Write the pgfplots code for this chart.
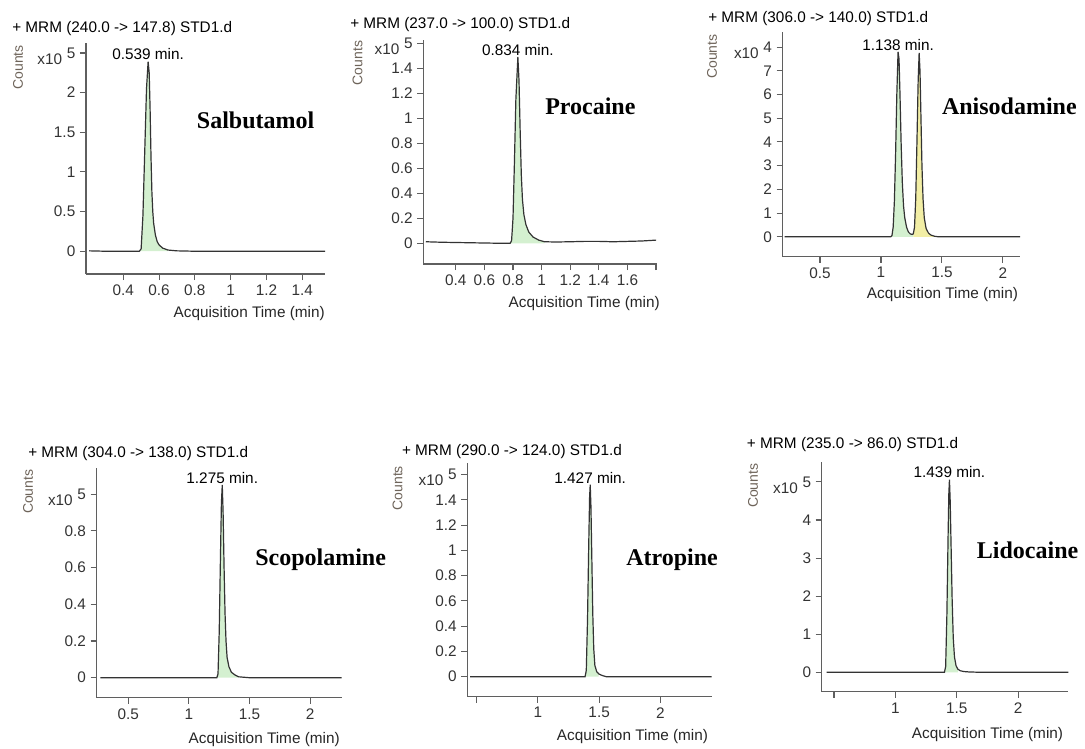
\documentclass[border=0pt]{standalone}
\usepackage{pgfplots}
\pgfplotsset{compat=1.18}
\usepackage{fontspec}
\setmainfont{Liberation Sans}
\newfontfamily\tnr{Liberation Serif}
\definecolor{pkgreen}{RGB}{212,240,208}
\definecolor{pkyellow}{RGB}{242,238,165}
\definecolor{axgray}{RGB}{95,95,95}
\definecolor{cntcol}{RGB}{110,100,90}
\newcommand{\expo}[1]{\smash{\raisebox{-4.5pt}{x10}}\hspace{3.5pt}#1}
\newcommand{\tfont}{\fontsize{11.5}{13}\selectfont}
\newcommand{\nfont}{\tnr\bfseries\fontsize{18}{20}\selectfont}
\pgfplotsset{
  mh/.style={
    scale only axis, anchor=south west, clip=false,
    axis lines=left,
    axis line style={-, draw=axgray, line width=1.1pt},
    tick style={draw=axgray, line width=0.8pt},
    tick align=outside, major tick length=4.5pt,
    ticklabel style={font=\tfont, text=black!80},
    /pgf/number format/assume math mode=true,
    no markers,
  },
  tr/.style={draw=black!80, line width=0.9pt},
  pk/.style={fill=pkgreen, draw=none},
}
\begin{document}
\begin{tikzpicture}
\useasboundingbox (0,0) rectangle (813.75pt,-561.75pt);

% ---------- Salbutamol ----------
\begin{axis}[mh, at={(64.5pt,-205.5pt)}, width=179.25pt, height=173.5pt,
  xmin=0.192, xmax=1.527, ymin=-0.287, ymax=2.63,
  xtick={0.4,0.6,0.8,1,1.2,1.4}, xticklabels={0.4,0.6,0.8,1,1.2,1.4},
  ytick={0,0.5,1,1.5,2,2.5}, yticklabels={0,0.5,1,1.5,2,\expo{5}}]
\addplot[pk] coordinates {(0.495,0) (0.50,0.03) (0.51,0.45) (0.52,1.25) (0.53,2.05) (0.539,2.39) (0.545,2.25) (0.55,1.8) (0.555,1.2) (0.56,0.75) (0.565,0.5) (0.57,0.35) (0.58,0.2) (0.59,0.12) (0.60,0.08) (0.62,0.04) (0.65,0.015) (0.65,0)} \closedcycle;
\addplot[tr] coordinates {(0.21,0.005) (0.30,0.0) (0.40,0.0) (0.49,0.0) (0.50,0.03) (0.51,0.45) (0.52,1.25) (0.53,2.05) (0.539,2.39) (0.545,2.25) (0.55,1.8) (0.555,1.2) (0.56,0.75) (0.565,0.5) (0.57,0.35) (0.58,0.2) (0.59,0.12) (0.60,0.08) (0.62,0.04) (0.65,0.015) (0.70,0.005) (0.80,0.0) (1.0,0.0) (1.2,0.0) (1.4,0.0) (1.527,0.0)};
\node[font=\tfont, anchor=south, inner sep=1pt] at (axis cs:0.539,2.39) {0.539 min.};
\end{axis}

% ---------- Procaine ----------
\begin{axis}[mh, at={(317.5pt,-198pt)}, width=175.05pt, height=168pt,
  xmin=0.173, xmax=1.805, ymin=-0.166, ymax=1.626,
  xtick={0.4,0.6,0.8,1,1.2,1.4,1.6,1.8}, xticklabels={0.4,0.6,0.8,1,1.2,1.4,1.6,{}},
  ytick={0,0.2,0.4,0.6,0.8,1,1.2,1.4,1.6}, yticklabels={0,0.2,0.4,0.6,0.8,1,1.2,1.4,\expo{5}}]
\addplot[pk] coordinates {(0.785,0) (0.79,0.02) (0.80,0.2) (0.81,0.65) (0.82,1.15) (0.834,1.49) (0.842,1.3) (0.85,0.9) (0.858,0.55) (0.866,0.35) (0.876,0.23) (0.89,0.15) (0.91,0.09) (0.94,0.05) (0.98,0.025) (1.02,0.012) (1.02,0)} \closedcycle;
\addplot[tr] coordinates {(0.19,0.012) (0.30,0.008) (0.45,0.005) (0.60,0.002) (0.70,0.0) (0.78,0.0) (0.79,0.02) (0.80,0.2) (0.81,0.65) (0.82,1.15) (0.834,1.49) (0.842,1.3) (0.85,0.9) (0.858,0.55) (0.866,0.35) (0.876,0.23) (0.89,0.15) (0.91,0.09) (0.94,0.05) (0.98,0.025) (1.02,0.012) (1.1,0.01) (1.2,0.012) (1.3,0.015) (1.4,0.015) (1.5,0.012) (1.6,0.015) (1.7,0.018) (1.8,0.025)};
\node[font=\tfont, anchor=south, inner sep=1pt] at (axis cs:0.834,1.49) {0.834 min.};
\end{axis}

% ---------- Anisodamine ----------
\begin{axis}[mh, at={(587pt,-192.5pt)}, width=178pt, height=168.75pt,
  xmin=0.194, xmax=2.14, ymin=-0.84, ymax=8.65,
  xtick={0.5,1,1.5,2}, xticklabels={0.5,1,1.5,2},
  ytick={0,1,2,3,4,5,6,7,8}, yticklabels={0,1,2,3,4,5,6,7,\expo{4}}]
\addplot[pk] coordinates {(1.085,0) (1.09,0.05) (1.10,0.4) (1.11,1.5) (1.12,3.5) (1.13,6.0) (1.14,7.8) (1.148,7.5) (1.156,6.0) (1.165,4.0) (1.175,2.3) (1.185,1.3) (1.195,0.8) (1.21,0.4) (1.225,0.2) (1.24,0.12) (1.255,0.1) (1.265,0.12) (1.265,0)} \closedcycle;
\addplot[fill=pkyellow, draw=none] coordinates {(1.265,0) (1.265,0.12) (1.275,0.4) (1.285,1.6) (1.295,4.0) (1.305,6.6) (1.313,7.75) (1.32,7.0) (1.328,5.0) (1.336,3.0) (1.345,1.6) (1.355,0.8) (1.37,0.35) (1.39,0.15) (1.41,0.07) (1.44,0.02) (1.46,0.01) (1.46,0)} \closedcycle;
\addplot[tr] coordinates {(0.21,0) (0.5,0) (0.8,0) (1.0,0) (1.08,0) (1.09,0.05) (1.10,0.4) (1.11,1.5) (1.12,3.5) (1.13,6.0) (1.14,7.8) (1.148,7.5) (1.156,6.0) (1.165,4.0) (1.175,2.3) (1.185,1.3) (1.195,0.8) (1.21,0.4) (1.225,0.2) (1.24,0.12) (1.255,0.1) (1.265,0.12) (1.275,0.4) (1.285,1.6) (1.295,4.0) (1.305,6.6) (1.313,7.75) (1.32,7.0) (1.328,5.0) (1.336,3.0) (1.345,1.6) (1.355,0.8) (1.37,0.35) (1.39,0.15) (1.41,0.07) (1.44,0.02) (1.47,0.0) (1.6,0) (1.8,0) (2.0,0) (2.14,0)};
\node[font=\tfont, anchor=south, inner sep=1pt] at (axis cs:1.14,7.8) {1.138 min.};
\end{axis}

% ---------- Scopolamine ----------
\begin{axis}[mh, at={(72.5pt,-523.3pt)}, width=183.75pt, height=172.05pt,
  xmin=0.239, xmax=2.26, ymin=-0.109, ymax=1.14,
  xtick={0.5,1,1.5,2}, xticklabels={0.5,1,1.5,2},
  ytick={0,0.2,0.4,0.6,0.8,1}, yticklabels={0,0.2,0.4,0.6,0.8,\expo{5}}]
\addplot[pk] coordinates {(1.235,0) (1.24,0.02) (1.25,0.25) (1.26,0.65) (1.268,0.95) (1.275,1.05) (1.282,0.9) (1.29,0.6) (1.298,0.35) (1.306,0.2) (1.315,0.11) (1.33,0.06) (1.35,0.03) (1.38,0.015) (1.41,0.005) (1.41,0)} \closedcycle;
\addplot[tr] coordinates {(0.27,0) (0.6,0) (1.0,0) (1.23,0) (1.24,0.02) (1.25,0.25) (1.26,0.65) (1.268,0.95) (1.275,1.05) (1.282,0.9) (1.29,0.6) (1.298,0.35) (1.306,0.2) (1.315,0.11) (1.33,0.06) (1.35,0.03) (1.38,0.015) (1.41,0.005) (1.5,0) (1.8,0) (2.26,0)};
\node[font=\tfont, anchor=south, inner sep=1pt] at (axis cs:1.275,1.05) {1.275 min.};
\end{axis}

% ---------- Atropine ----------
\begin{axis}[mh, at={(350.5pt,-522.5pt)}, width=183.3pt, height=175.05pt,
  xmin=0.423, xmax=2.42, ymin=-0.158, ymax=1.69,
  xtick={0.5,1,1.5,2}, xticklabels={{},1,1.5,2},
  ytick={0,0.2,0.4,0.6,0.8,1,1.2,1.4,1.6}, yticklabels={0,0.2,0.4,0.6,0.8,1,1.2,1.4,\expo{5}}]
\addplot[pk] coordinates {(1.39,0) (1.395,0.05) (1.405,0.45) (1.415,1.05) (1.422,1.42) (1.427,1.52) (1.433,1.35) (1.44,0.95) (1.448,0.5) (1.456,0.22) (1.465,0.09) (1.48,0.04) (1.495,0.02) (1.495,0)} \closedcycle;
\addplot[tr] coordinates {(0.445,0) (0.8,0) (1.2,0) (1.385,0) (1.395,0.05) (1.405,0.45) (1.415,1.05) (1.422,1.42) (1.427,1.52) (1.433,1.35) (1.44,0.95) (1.448,0.5) (1.456,0.22) (1.465,0.09) (1.48,0.04) (1.50,0.02) (1.53,0.008) (1.56,0.0) (1.8,0) (2.1,0) (2.42,0)};
\node[font=\tfont, anchor=south, inner sep=1pt] at (axis cs:1.427,1.52) {1.427 min.};
\end{axis}

% ---------- Lidocaine ----------
\begin{axis}[mh, at={(616.3pt,-518.8pt)}, width=184.95pt, height=172.5pt,
  xmin=0.40, xmax=2.41, ymin=-0.51, ymax=5.53,
  xtick={0.5,1,1.5,2}, xticklabels={{},1,1.5,2},
  ytick={0,1,2,3,4,5}, yticklabels={0,1,2,3,4,\expo{5}}]
\addplot[pk] coordinates {(1.405,0) (1.41,0.15) (1.42,1.5) (1.43,3.6) (1.436,4.7) (1.441,5.06) (1.447,4.5) (1.455,3.2) (1.463,1.9) (1.472,0.9) (1.482,0.4) (1.495,0.17) (1.51,0.08) (1.51,0)} \closedcycle;
\addplot[tr] coordinates {(0.44,0) (0.8,0) (1.2,0) (1.40,0) (1.41,0.15) (1.42,1.5) (1.43,3.6) (1.436,4.7) (1.441,5.06) (1.447,4.5) (1.455,3.2) (1.463,1.9) (1.472,0.9) (1.482,0.4) (1.495,0.17) (1.51,0.08) (1.53,0.04) (1.56,0.02) (1.6,0.01) (1.7,0) (2.0,0) (2.41,0)};
\node[font=\tfont, anchor=south, inner sep=1pt] at (axis cs:1.441,5.06) {1.439 min.};
\end{axis}

% ---------- titles ----------
\begin{scope}[every node/.style={font=\tfont, anchor=west, inner sep=0pt}]
\node at (9pt,-21.75pt) {+ MRM (240.0 -> 147.8) STD1.d};
\node at (262.5pt,-18.75pt) {+ MRM (237.0 -> 100.0) STD1.d};
\node at (531pt,-13.7pt) {+ MRM (306.0 -> 140.0) STD1.d};
\node at (21pt,-340pt) {+ MRM (304.0 -> 138.0) STD1.d};
\node at (301.3pt,-338.8pt) {+ MRM (290.0 -> 124.0) STD1.d};
\node at (560pt,-333.75pt) {+ MRM (235.0 -> 86.0) STD1.d};
\end{scope}
% ---------- Counts ----------
\begin{scope}[every node/.style={font=\fontsize{10.5}{12}\selectfont, text=cntcol, rotate=90, inner sep=0pt}]
\node at (13.5pt,-50.6pt) {Counts};
\node at (268.1pt,-47.25pt) {Counts};
\node at (534pt,-42.5pt) {Counts};
\node at (21pt,-368.8pt) {Counts};
\node at (298.1pt,-366.2pt) {Counts};
\node at (564.75pt,-364.35pt) {Counts};
\end{scope}
% ---------- x labels ----------
\begin{scope}[every node/.style={font=\tfont, text=black!85, anchor=east, inner sep=0pt}]
\node at (243.75pt,-235pt) {Acquisition Time (min)};
\node at (495pt,-227.5pt) {Acquisition Time (min)};
\node at (763.7pt,-221.25pt) {Acquisition Time (min)};
\node at (255pt,-555pt) {Acquisition Time (min)};
\node at (531.2pt,-552.5pt) {Acquisition Time (min)};
\node at (797.5pt,-551.25pt) {Acquisition Time (min)};
\end{scope}
% ---------- compound names ----------
\begin{scope}[every node/.style={font=\nfont, anchor=west, inner sep=0pt}]
\node at (147.5pt,-90pt) {Salbutamol};
\node at (408.75pt,-79.5pt) {Procaine};
\node at (706.3pt,-79.5pt) {Anisodamine};
\node at (191.25pt,-420pt) {Scopolamine};
\node at (469.5pt,-420pt) {Atropine};
\node at (732.5pt,-412.5pt) {Lidocaine};
\end{scope}
\end{tikzpicture}
\end{document}
